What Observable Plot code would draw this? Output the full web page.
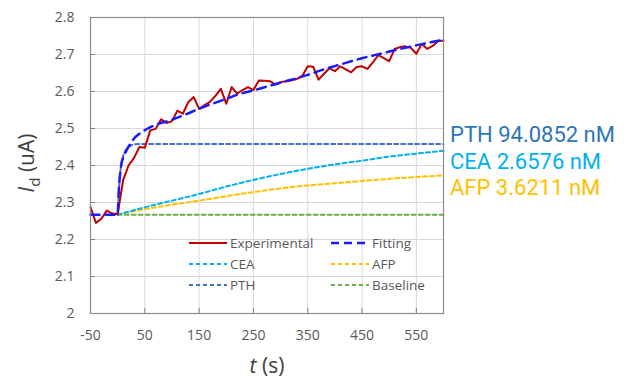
<!DOCTYPE html>
<html><head><meta charset="utf-8">
<script src="https://cdn.jsdelivr.net/npm/d3@7"></script>
<script src="https://cdn.jsdelivr.net/npm/@observablehq/plot@0.6"></script>
<style>
body{margin:0;background:#fff;font-family:"Open Sans",sans-serif;}
#wrap{position:relative;width:635px;height:380px;overflow:hidden;}
.lg{position:absolute;display:flex;align-items:center;font-size:13.5px;color:#595959;white-space:nowrap;}
.lg svg{margin-right:3px;}
.ann{position:absolute;left:450px;font-family:Roboto,sans-serif;font-size:22px;white-space:nowrap;line-height:1;}
.ylab{position:absolute;left:28px;top:163px;transform:translate(-50%,-50%) rotate(-90deg);font-size:21px;color:#404040;white-space:nowrap;}
.xlab{position:absolute;left:267px;top:365px;transform:translate(-50%,-50%);font-size:21px;color:#404040;white-space:nowrap;}
</style></head><body><div id="wrap"></div>
<script>
// Experimental data (t in s, Id in uA)
const expT = [-50,-40,-30,-20,-10,0,10,20,30,40,50,60,70,80,90,100,110,120,130,140,150,160,170,180,190,200,210,220,230,240,250,260,270,280,290,300,310,320,330,340,350,360,370,380,390,400,410,420,430,440,450,460,470,480,490,500,510,520,530,540,550,560,570,580,590,600];
const expV = [2.287,2.245,2.256,2.278,2.270,2.269,2.36,2.40,2.42,2.45,2.448,2.495,2.499,2.525,2.515,2.52,2.548,2.54,2.571,2.585,2.553,2.563,2.572,2.588,2.607,2.567,2.612,2.594,2.604,2.612,2.604,2.63,2.629,2.628,2.619,2.625,2.628,2.63,2.634,2.642,2.668,2.667,2.632,2.648,2.663,2.655,2.668,2.660,2.652,2.666,2.668,2.661,2.679,2.698,2.69,2.682,2.715,2.72,2.722,2.718,2.702,2.729,2.715,2.723,2.736,2.738];
// Fitting curve
const fitT = [-50,0,2,4,7,10,16,24,32,42,53,72,97,125,151,175,200,226,250,269,300,330,350,380,410,450,484,520,560,600];
const fitV = [2.267,2.267,2.33,2.37,2.405,2.42,2.44,2.46,2.476,2.488,2.498,2.511,2.522,2.538,2.554,2.567,2.58,2.594,2.603,2.611,2.624,2.636,2.645,2.66,2.673,2.69,2.702,2.715,2.728,2.74];
// Components
const pthT = [0,2,4,7,10,13,20,28,40,600];
const pthV = [2.267,2.32,2.368,2.405,2.425,2.437,2.45,2.456,2.458,2.458];
const ceaT = [0,50,100,150,200,250,300,350,400,450,500,550,600];
const ceaV = [2.267,2.287,2.305,2.323,2.343,2.361,2.377,2.391,2.403,2.413,2.424,2.432,2.44];
const afpT = [0,50,100,150,200,250,300,350,400,450,500,550,600];
const afpV = [2.267,2.282,2.294,2.305,2.317,2.328,2.338,2.346,2.352,2.358,2.364,2.369,2.373];
const baseT = [0,600];
const baseV = [2.267,2.267];
// Ticks
const xTicks = [-50,50,150,250,350,450,550];
const yTicks = [2,2.1,2.2,2.3,2.4,2.5,2.6,2.7,2.8];
// Legend & annotations
const legendNames = ["Experimental","Fitting","CEA","AFP","PTH","Baseline"];
const annTexts = ["PTH 94.0852 nM","CEA 2.6576 nM","AFP 3.6211 nM"];

const C = {exp:"#c00000", fit:"#1a1aff", cea:"#00b0f0", afp:"#ffc000", pth:"#4472c4", base:"#70ad47"};
const zip = (T,V) => T.map((t,i)=>({t, v:V[i]}));

const small = {strokeWidth:2, strokeDasharray:"4,3"};
const chart = Plot.plot({
  width:635, height:380,
  marginLeft:90, marginRight:192, marginTop:17, marginBottom:67,
  style:{fontFamily:"'Open Sans',sans-serif", fontSize:"14px", color:"#595959", background:"#fff"},
  x:{domain:[-50,600]},
  y:{domain:[2,2.8]},
  marks:[
    Plot.gridX(xTicks, {stroke:"#d9d9d9", strokeOpacity:1}),
    Plot.gridY(yTicks, {stroke:"#d9d9d9", strokeOpacity:1}),
    Plot.axisX({ticks:xTicks, tickSize:-5, tickPadding:22, stroke:"#808080", label:null, fill:"#595959", tickFormat:d=>String(d)}),
    Plot.axisY({ticks:yTicks, tickSize:-5, tickPadding:21, stroke:"#808080", label:null, fill:"#595959", tickFormat:d=>String(d)}),
    Plot.line(zip(baseT,baseV), {x:"t", y:"v", stroke:C.base, ...small}),
    Plot.line(zip(afpT,afpV), {x:"t", y:"v", stroke:C.afp, ...small, curve:"monotone-x"}),
    Plot.line(zip(ceaT,ceaV), {x:"t", y:"v", stroke:C.cea, ...small, curve:"monotone-x"}),
    Plot.line(zip(pthT,pthV), {x:"t", y:"v", stroke:C.pth, ...small, curve:"monotone-x"}),
    Plot.line(zip(expT,expV), {x:"t", y:"v", stroke:C.exp, strokeWidth:2}),
    Plot.line(zip(fitT,fitV), {x:"t", y:"v", stroke:C.fit, strokeWidth:2.5, strokeDasharray:"9,6", curve:"monotone-x"}),
    Plot.frame({stroke:"#8c8c8c", strokeWidth:1.2})
  ]
});
const wrap = document.getElementById("wrap");
wrap.appendChild(chart);

// Legend (inside plot area)
const lgStyle = [
  {c:C.exp, w:2, d:""}, {c:C.fit, w:2.5, d:"8,5"},
  {c:C.cea, w:2, d:"4,3"}, {c:C.afp, w:2, d:"4,3"},
  {c:C.pth, w:2, d:"4,3"}, {c:C.base, w:2, d:"4,3"}
];
const colX = [189, 331], rowY = [243, 264, 285];
legendNames.forEach((n,i)=>{
  const d = document.createElement("div");
  d.className = "lg";
  d.style.left = colX[i%2]+"px";
  d.style.top = (rowY[Math.floor(i/2)]-10)+"px";
  d.style.height = "20px";
  const s = lgStyle[i];
  d.innerHTML = `<svg width="38" height="6"><line x1="0" y1="3" x2="38" y2="3" stroke="${s.c}" stroke-width="${s.w}" ${s.d?`stroke-dasharray="${s.d}"`:""}/></svg><span>${n}</span>`;
  wrap.appendChild(d);
});
// Annotations
const annColors = ["#2e75b6", C.cea, C.afp];
const annY = [135, 161.5, 188];
annTexts.forEach((t,i)=>{
  const d = document.createElement("div");
  d.className = "ann";
  d.style.color = annColors[i];
  d.style.top = (annY[i]-11)+"px";
  d.textContent = t;
  wrap.appendChild(d);
});
// Axis labels
const yl = document.createElement("div");
yl.className = "ylab";
yl.innerHTML = `<i>I</i><sub style="font-size:15px">d</sub> (uA)`;
wrap.appendChild(yl);
const xl = document.createElement("div");
xl.className = "xlab";
xl.innerHTML = `<i>t</i> (s)`;
wrap.appendChild(xl);
</script></body></html>
